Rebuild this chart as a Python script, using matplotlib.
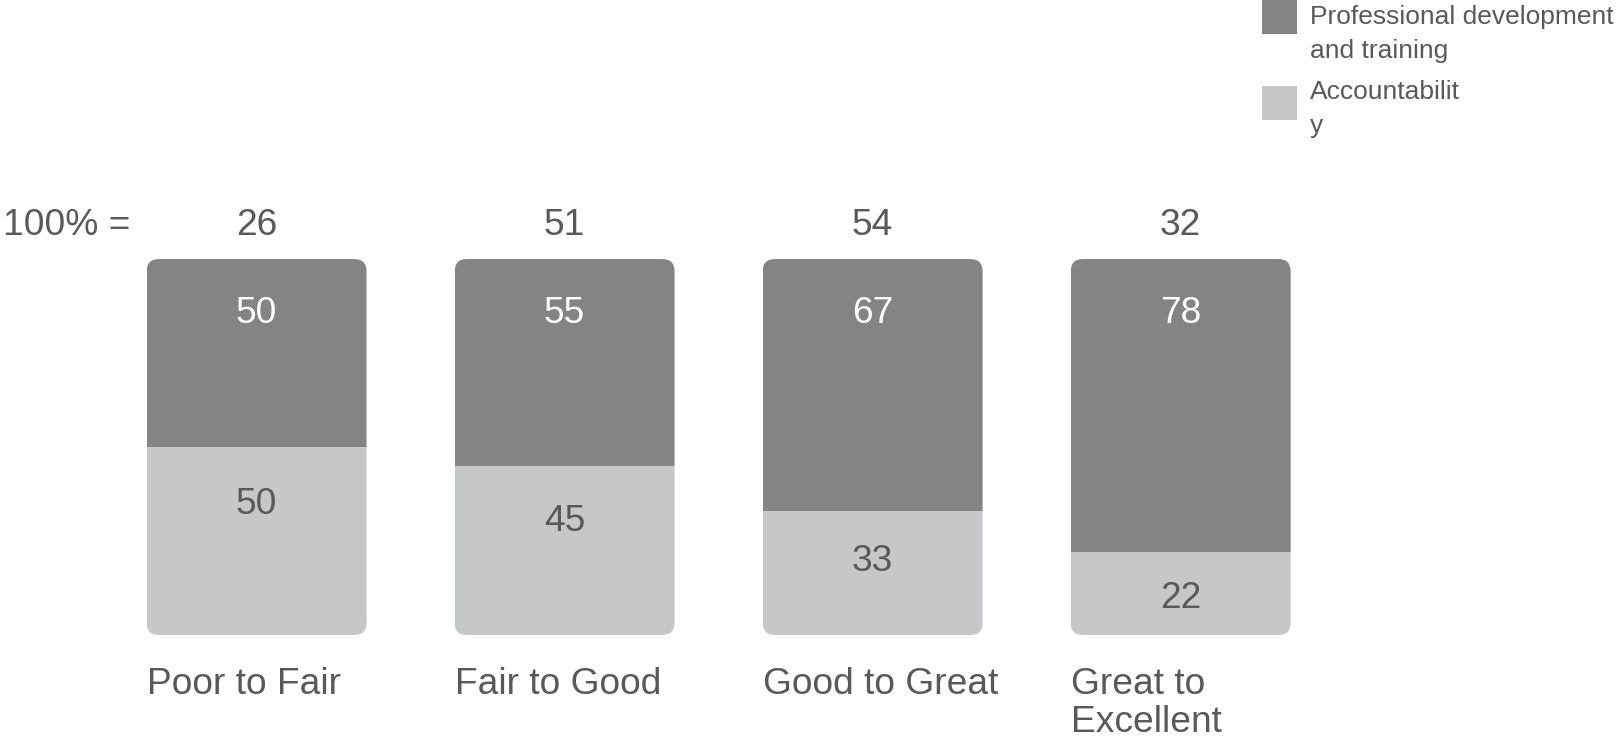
import numpy as np
import matplotlib
matplotlib.use('Agg')
import matplotlib.pyplot as plt
from matplotlib.patches import FancyBboxPatch, Rectangle

plt.rcParams['font.family'] = ['Liberation Sans', 'DejaVu Sans']

categories = ["Poor to Fair", "Fair to Good", "Good to Great", "Great to\nExcellent"]
totals = [26, 51, 54, 32]
prof_dev = [50, 55, 67, 78]
accountability = [50, 45, 33, 22]
legend_labels = ["Professional development\nand training", "Accountabilit\ny"]

dark = '#848484'
light = '#c6c7c9'
text_col = '#595959'
fs = 26.7

fig = plt.figure(figsize=(16.19, 7.41), dpi=100)
ax = fig.add_axes([0, 0, 1, 1])
ax.set_xlim(-0.833, 4.423)
ax.set_ylim(-28.19, 168.9)
ax.axis('off')

x = np.arange(len(categories))
w = 0.714
acc = np.array(accountability)
prof = np.array(prof_dev)

b1 = ax.bar(x, acc, width=w, color=light, linewidth=0)
b2 = ax.bar(x, prof, width=w, bottom=acc, color=dark, linewidth=0)

# rounded corners: clip each stack to a rounded box
for i in range(len(x)):
    clip = FancyBboxPatch((x[i] - w / 2, 0), w, acc[i] + prof[i],
                          boxstyle="round,pad=0,rounding_size=0.04",
                          mutation_aspect=82, transform=ax.transData)
    b1[i].set_clip_path(clip)
    b2[i].set_clip_path(clip)

for i in range(len(x)):
    ax.text(x[i], 109.0, str(totals[i]), ha='center', va='center', fontsize=fs, color=text_col)
    ax.text(x[i], 85.4, str(prof[i]), ha='center', va='center', fontsize=fs, color='white')
    ax.text(x[i], 0.89 * acc[i] - 9.8, str(acc[i]), ha='center', va='center', fontsize=fs, color=text_col)
    ax.text(x[i] - w / 2, -8.4, categories[i], ha='left', va='top', fontsize=fs,
            color=text_col, linespacing=1.12)

ax.text(-0.823, 109.0, "100% =", ha='left', va='center', fontsize=fs, color=text_col)

# legend drawn by hand (squares line up with first text line)
H = 741.0
Wf = 1619.0
cols = [dark, light]
sq_tops = [0, 86]
txt_tops = [5, 80]
for lab, c, t, tt in zip(legend_labels, cols, sq_tops, txt_tops):
    fig.patches.append(Rectangle((1262 / Wf, 1 - (t + 34) / H), 35 / Wf, 34 / H,
                                 transform=fig.transFigure, color=c, linewidth=0))
    fig.text(1310 / Wf, 1 - tt / H, lab, ha='left', va='top', fontsize=19,
             color=text_col, linespacing=1.55)

fig.savefig('out.png', dpi=100)
